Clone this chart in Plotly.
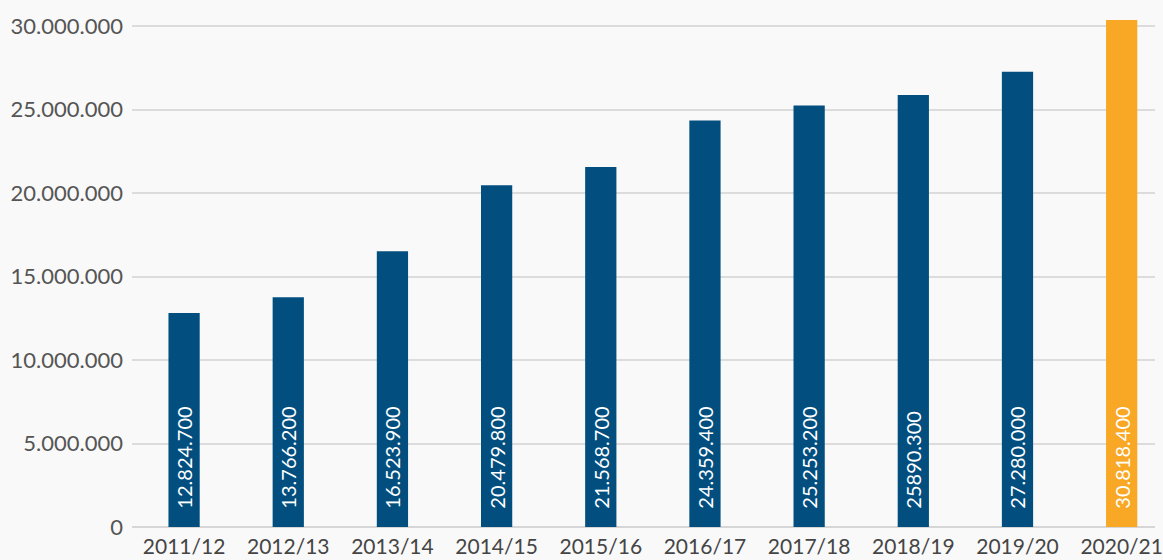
import plotly.graph_objects as go

categories = ["2011/12", "2012/13", "2013/14", "2014/15", "2015/16",
              "2016/17", "2017/18", "2018/19", "2019/20", "2020/21"]
values = [12824700, 13766200, 16523900, 20479800, 21568700,
          24359400, 25253200, 25890300, 27280000, 30818400]
labels = ["12.824.700", "13.766.200", "16.523.900", "20.479.800", "21.568.700",
          "24.359.400", "25.253.200", "25890.300", "27.280.000", "30.818.400"]
tick_vals = [0, 5000000, 10000000, 15000000, 20000000, 25000000, 30000000]
tick_text = ["0", "5.000.000", "10.000.000", "15.000.000", "20.000.000",
             "25.000.000", "30.000.000"]

BLUE = "#024f7f"
ORANGE = "#f8a824"
colors = [BLUE] * (len(values) - 1) + [ORANGE]

pad = "\u00a0" * 3
fig = go.Figure(go.Bar(
    x=categories, y=values,
    marker=dict(color=colors, line=dict(width=0)),
    width=0.3,
    text=[pad + t for t in labels],
    textposition="inside",
    insidetextanchor="start",
    textangle=-90,
    textfont=dict(color="white", size=20, family="Lato"),
    cliponaxis=True,
))

fig.update_layout(
    width=1163, height=560,
    margin=dict(l=132, r=0, t=20, b=33),
    paper_bgcolor="#f9f9f9",
    plot_bgcolor="#f9f9f9",
    font=dict(family="Lato", color="#555555"),
    showlegend=False,
    bargap=0.7,
)
fig.update_xaxes(
    range=[-0.5, 9.32],
    tickfont=dict(size=21, color="#454545", family="Lato"),
    showgrid=False, ticks="", showline=False,
    ticklabelstandoff=5,
)
fig.update_yaxes(
    range=[0, 30380000],
    tickvals=tick_vals, ticktext=tick_text,
    tickfont=dict(size=22, color="#555555", family="Lato"),
    showgrid=True, gridcolor="#dcdcdc", gridwidth=1.5,
    zeroline=True, zerolinecolor="#d6d6d6", zerolinewidth=2,
    ticks="", ticklabelstandoff=8,
)

fig.write_html(
    "out.html",
    config={"displayModeBar": False},
    post_script="document.body.style.margin='0';document.body.style.background='#f9f9f9';",
)
